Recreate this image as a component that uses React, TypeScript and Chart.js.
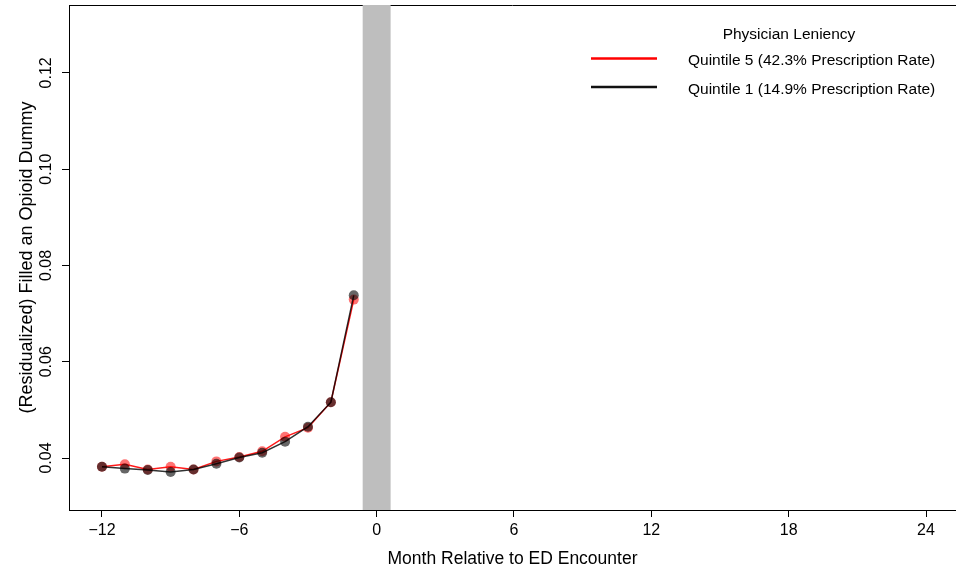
import React, { useEffect, useRef } from 'react';
import { Chart, registerables } from 'chart.js';

Chart.register(...registerables);

const months = [-12, -11, -10, -9, -8, -7, -6, -5, -4, -3, -2, -1];
const quintile5 = [0.0382, 0.0387, 0.0376, 0.0382, 0.0376, 0.0393, 0.0402, 0.0414, 0.0444, 0.0463, 0.0516, 0.0729];
const quintile1 = [0.0382, 0.0378, 0.0375, 0.0371, 0.0376, 0.0388, 0.0401, 0.0411, 0.0434, 0.0465, 0.0516, 0.0738];
const xTicks = [-12, -6, 0, 6, 12, 18, 24];
const yTicks = [0.04, 0.06, 0.08, 0.1, 0.12];
const xRange = [-13.44, 25.31];
const yRange = [0.0292, 0.1341];
const bandRange = [-0.61, 0.61];
const legendTitle = 'Physician Leniency';
const seriesLabels = ['Quintile 5 (42.3% Prescription Rate)', 'Quintile 1 (14.9% Prescription Rate)'];
const xTitle = 'Month Relative to ED Encounter';
const yTitle = '(Residualized) Filled an Opioid Dummy';

const FONT = '"Liberation Sans", Arial, Helvetica, sans-serif';

const zeroPad = (s: any) => {
  s.paddingLeft = 0;
  s.paddingRight = 0;
  s.paddingTop = 0;
  s.paddingBottom = 0;
};

const decorPlugin = {
  id: 'decor',
  beforeDatasetsDraw(chart: any) {
    const { ctx, chartArea } = chart;
    const { left, right, top, bottom } = chartArea;
    const xs = chart.scales.x;
    ctx.save();
    ctx.strokeStyle = '#000';
    ctx.lineWidth = 1;
    ctx.beginPath();
    ctx.moveTo(left, top + 0.5);
    ctx.lineTo(right, top + 0.5);
    ctx.stroke();
    const x1 = xs.getPixelForValue(bandRange[0]);
    const x2 = xs.getPixelForValue(bandRange[1]);
    ctx.fillStyle = '#bebebe';
    ctx.fillRect(x1, top, x2 - x1, bottom - top);
    ctx.restore();
  },
  afterDraw(chart: any) {
    const { ctx } = chart;
    ctx.save();
    ctx.font = `15.5px ${FONT}`;
    ctx.fillStyle = '#000';
    ctx.textAlign = 'center';
    ctx.textBaseline = 'alphabetic';
    ctx.fillText(legendTitle, 789, 38.5);
    const colors = ['#ff0000', '#111111'];
    const ys = [58.5, 87];
    const baselines = [65, 93.5];
    for (let i = 0; i < seriesLabels.length; i++) {
      ctx.strokeStyle = colors[i];
      ctx.lineWidth = 2.5;
      ctx.beginPath();
      ctx.moveTo(591, ys[i]);
      ctx.lineTo(657, ys[i]);
      ctx.stroke();
      ctx.textAlign = 'left';
      ctx.fillText(seriesLabels[i], 688, baselines[i]);
    }
    ctx.restore();
  },
};

export default function App() {
  const canvasRef = useRef<HTMLCanvasElement | null>(null);

  useEffect(() => {
    if (!canvasRef.current) return;
    Chart.defaults.font.family = FONT;
    const chart = new Chart(canvasRef.current, {
      type: 'line',
      data: {
        datasets: [
          {
            label: seriesLabels[0],
            data: months.map((m, i) => ({ x: m, y: quintile5[i] })),
            borderColor: 'rgba(255,0,0,0.9)',
            borderWidth: 1.5,
            pointRadius: 5,
            pointBackgroundColor: 'rgba(255,0,0,0.55)',
            pointBorderWidth: 0,
            pointBorderColor: 'rgba(0,0,0,0)',
            tension: 0,
            order: 1,
          },
          {
            label: seriesLabels[1],
            data: months.map((m, i) => ({ x: m, y: quintile1[i] })),
            borderColor: 'rgba(0,0,0,0.8)',
            borderWidth: 1.5,
            pointRadius: 5,
            pointBackgroundColor: 'rgba(0,0,0,0.6)',
            pointBorderWidth: 0,
            pointBorderColor: 'rgba(0,0,0,0)',
            tension: 0,
            order: 0,
          },
        ],
      },
      options: {
        animation: false,
        responsive: false,
        layout: { autoPadding: false, padding: { top: 5, left: 0, right: 0, bottom: 0 } },
        plugins: { legend: { display: false }, tooltip: { enabled: false } },
        scales: {
          x: {
            type: 'linear',
            min: xRange[0],
            max: xRange[1],
            afterFit: (s: any) => { s.height = 57; zeroPad(s); },
            afterBuildTicks: (s: any) => { s.ticks = xTicks.map((v) => ({ value: v })); },
            grid: { display: true, drawOnChartArea: false, drawTicks: true, tickLength: 7, color: '#000', lineWidth: 1 },
            border: { display: true, color: '#000', width: 1 },
            ticks: {
              font: { size: 16 },
              color: '#000',
              padding: 4,
              minRotation: 0,
              maxRotation: 0,
              callback: (v: any) => (v < 0 ? '\u2212' + Math.abs(v) : String(v)),
            },
            title: { display: true, text: xTitle, font: { size: 17.5 }, color: '#000', padding: { top: 0, bottom: -3 } },
          },
          y: {
            type: 'linear',
            min: yRange[0],
            max: yRange[1],
            afterFit: (s: any) => { s.width = 69; zeroPad(s); },
            afterBuildTicks: (s: any) => { s.ticks = yTicks.map((v) => ({ value: v })); },
            grid: { display: true, drawOnChartArea: false, drawTicks: true, tickLength: 7, color: '#000', lineWidth: 1 },
            border: { display: true, color: '#000', width: 1 },
            ticks: {
              font: { size: 16 },
              color: '#000',
              padding: 0,
              minRotation: 90,
              maxRotation: 90,
              crossAlign: 'center',
              callback: (v: any) => Number(v).toFixed(2),
            },
            title: { display: true, text: yTitle, font: { size: 18 }, color: '#000', padding: { top: 16, bottom: 0 } },
          },
        },
      },
      plugins: [decorPlugin],
    } as any);
    return () => chart.destroy();
  }, []);

  return (
    <div style={{ position: 'fixed', left: 0, top: 0, width: 956, height: 567, background: '#fff' }}>
      <canvas ref={canvasRef} width={956} height={567} style={{ display: 'block' }} />
    </div>
  );
}
